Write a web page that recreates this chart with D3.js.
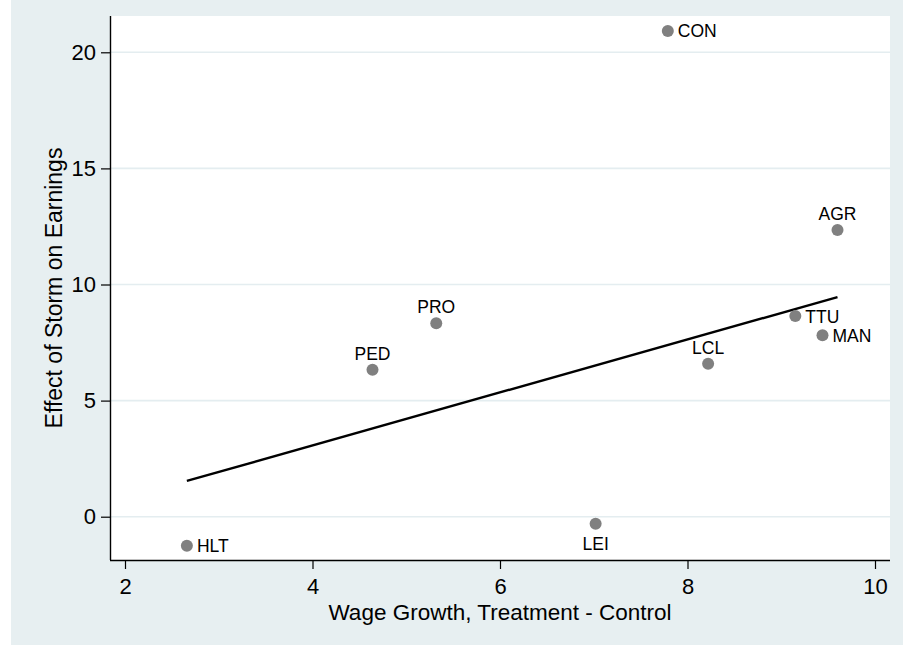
<!DOCTYPE html>
<html>
<head>
<meta charset="utf-8">
<script src="https://cdn.jsdelivr.net/npm/d3@7"></script>
<style>
  html, body { margin: 0; padding: 0; background: #ffffff; }
  svg { display: block; font-family: "Liberation Sans", Arial, Helvetica, sans-serif; }
</style>
</head>
<body>
<svg id="chart" width="903" height="645"></svg>
<script>
// Industry codes and their coordinates
const industries = ["CON", "AGR", "TTU", "MAN", "LCL", "PRO", "PED", "LEI", "HLT"];
const wageGrowth = [7.79, 9.60, 9.15, 9.44, 8.22, 5.32, 4.64, 7.02, 2.66];
const stormEffect = [20.92, 12.35, 8.64, 7.81, 6.59, 8.33, 6.33, -0.30, -1.25];
// label placement (clock position) per industry
const labelPos = ["right", "above", "right", "right", "above", "above", "above", "below", "right"];

// fitted line endpoints
const fitX = [2.66, 9.60];
const fitY = [1.54, 9.46];

const xTicks = [2, 4, 6, 8, 10];
const yTicks = [0, 5, 10, 15, 20];

const W = 903, H = 645;
const plot = { left: 110, right: 890, top: 16, bottom: 560 };

const svg = d3.select("#chart");

// graph region background
svg.append("rect")
  .attr("x", 11).attr("y", 0)
  .attr("width", W - 11).attr("height", H)
  .attr("fill", "#e7eff1");

// plot region
svg.append("rect")
  .attr("x", plot.left).attr("y", plot.top)
  .attr("width", plot.right - plot.left).attr("height", plot.bottom - plot.top)
  .attr("fill", "#ffffff");

const x = d3.scaleLinear().domain([2, 10]).range([125, 875]);
const y = d3.scaleLinear().domain([0, 20]).range([516.7, 52.3]);

// horizontal grid lines
svg.append("g")
  .selectAll("line")
  .data(yTicks)
  .join("line")
  .attr("x1", plot.left).attr("x2", plot.right)
  .attr("y1", d => y(d)).attr("y2", d => y(d))
  .attr("stroke", "#e4edf0")
  .attr("stroke-width", 1.6);

// y axis
const yAxis = svg.append("g")
  .attr("transform", `translate(${plot.left},0)`)
  .call(d3.axisLeft(y).tickValues(yTicks).tickSize(9).tickPadding(5).tickFormat(d3.format("d")));
yAxis.select(".domain").attr("d", `M0.5,${plot.top}V${plot.bottom}`).attr("stroke", "#000").attr("stroke-width", 1.4);
yAxis.selectAll(".tick line").attr("stroke", "#000").attr("stroke-width", 1.2);
yAxis.selectAll(".tick text").attr("font-size", 22).attr("fill", "#000")
  .attr("font-family", "Liberation Sans, Arial, sans-serif");

// x axis
const xAxis = svg.append("g")
  .attr("transform", `translate(0,${plot.bottom})`)
  .call(d3.axisBottom(x).tickValues(xTicks).tickSize(9).tickPadding(9).tickFormat(d3.format("d")));
xAxis.select(".domain").attr("d", `M${plot.left},0.5H${plot.right}`).attr("stroke", "#000").attr("stroke-width", 1.4);
xAxis.selectAll(".tick line").attr("stroke", "#000").attr("stroke-width", 1.2);
xAxis.selectAll(".tick text").attr("font-size", 22).attr("fill", "#000")
  .attr("font-family", "Liberation Sans, Arial, sans-serif");

// axis titles
svg.append("text")
  .attr("x", (plot.left + plot.right) / 2)
  .attr("y", 619.5)
  .attr("text-anchor", "middle")
  .attr("font-size", 22.5)
  .attr("fill", "#000")
  .text("Wage Growth, Treatment - Control");

svg.append("text")
  .attr("transform", `translate(62,${(plot.top + plot.bottom) / 2}) rotate(-90)`)
  .attr("text-anchor", "middle")
  .attr("font-size", 23)
  .attr("fill", "#000")
  .text("Effect of Storm on Earnings");

// fitted line
svg.append("line")
  .attr("x1", x(fitX[0])).attr("y1", y(fitY[0]))
  .attr("x2", x(fitX[1])).attr("y2", y(fitY[1]))
  .attr("stroke", "#000")
  .attr("stroke-width", 2.4);

const pts = industries.map((name, i) => ({ name, gx: wageGrowth[i], gy: stormEffect[i], pos: labelPos[i] }));

// markers
svg.append("g")
  .selectAll("circle")
  .data(pts)
  .join("circle")
  .attr("cx", d => x(d.gx))
  .attr("cy", d => y(d.gy))
  .attr("r", 6)
  .attr("fill", "#808080");

// marker labels
svg.append("g")
  .selectAll("text")
  .data(pts)
  .join("text")
  .attr("font-size", 17.5)
  .attr("fill", "#000")
  .attr("text-anchor", d => d.pos === "right" ? "start" : "middle")
  .attr("x", d => d.pos === "right" ? x(d.gx) + 10 : x(d.gx))
  .attr("y", d => {
    const cy = y(d.gy);
    if (d.pos === "right") return cy + 6.5;
    if (d.pos === "above") return cy - 10;
    return cy + 26.5;
  })
  .text(d => d.name);
</script>
</body>
</html>
